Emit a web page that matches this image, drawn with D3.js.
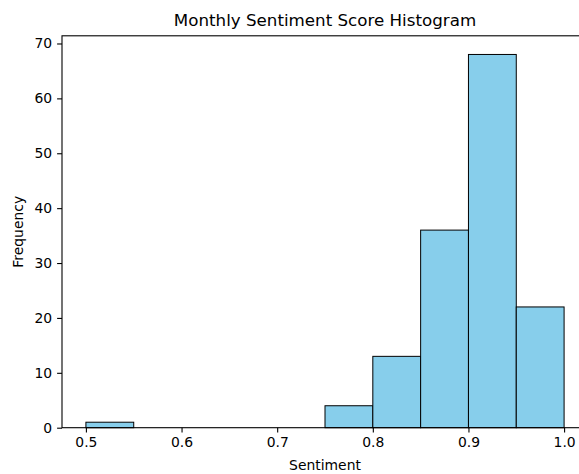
<!DOCTYPE html>
<html>
<head>
<meta charset="utf-8">
<script src="https://cdn.jsdelivr.net/npm/d3@7"></script>
<style>
  body { margin: 0; background: #fff; }
  text { font-family: "DejaVu Sans", sans-serif; fill: #000; }
</style>
</head>
<body>
<div id="chart"></div>
<script>
// histogram bins (10 bins between 0.5 and 1.0)
var binEdges = [0.5, 0.55, 0.6, 0.65, 0.7, 0.75, 0.8, 0.85, 0.9, 0.95, 1.0];
var binCounts = [1, 0, 0, 0, 0, 4, 13, 36, 68, 22];
var xTicks = [0.5, 0.6, 0.7, 0.8, 0.9, 1.0];
var yTicks = [0, 10, 20, 30, 40, 50, 60, 70];

var svgWidth = 579;
var svgHeight = 474;

// axes box (right side runs past the window, like the reference)
var box = { left: 62, right: 588, top: 35.8, bottom: 427.7 };

var svg = d3.select("#chart")
  .append("svg")
  .attr("width", svgWidth)
  .attr("height", svgHeight);

var xScale = d3.scaleLinear()
  .domain([0.475, 1.025])
  .range([box.left, box.right]);

var yScale = d3.scaleLinear()
  .domain([0, 71.4])
  .range([box.bottom, box.top]);

var bins = binCounts.map(function (c, i) {
  return { x0: binEdges[i], x1: binEdges[i + 1], count: c };
});

svg.selectAll("rect.bar")
  .data(bins.filter(d => d.count > 0))
  .enter()
  .append("rect")
  .attr("class", "bar")
  .attr("x", d => xScale(d.x0))
  .attr("y", d => yScale(d.count))
  .attr("width", d => xScale(d.x1) - xScale(d.x0))
  .attr("height", d => yScale(0) - yScale(d.count))
  .attr("fill", "#87ceeb")
  .attr("stroke", "#000")
  .attr("stroke-width", 1);

var bottomAxis = d3.axisBottom(xScale)
  .tickValues(xTicks)
  .tickFormat(d3.format(".1f"))
  .tickSizeInner(4.9)
  .tickSizeOuter(0)
  .tickPadding(4.9);

var leftAxis = d3.axisLeft(yScale)
  .tickValues(yTicks)
  .tickSizeInner(4.9)
  .tickSizeOuter(0)
  .tickPadding(4.9);

var xg = svg.append("g")
  .attr("transform", `translate(0, ${box.bottom})`)
  .call(bottomAxis);
var yg = svg.append("g")
  .attr("transform", `translate(${box.left}, 0)`)
  .call(leftAxis);

[xg, yg].forEach(function (g) {
  g.select(".domain").remove();
  g.selectAll(".tick line").attr("stroke", "#000").attr("stroke-width", 1.1);
  g.selectAll(".tick text")
    .style("font-family", "DejaVu Sans, sans-serif")
    .style("font-size", "13.9px")
    .attr("fill", "#000");
});

// spines
svg.append("rect")
  .attr("x", box.left)
  .attr("y", box.top)
  .attr("width", box.right - box.left)
  .attr("height", box.bottom - box.top)
  .attr("fill", "none")
  .attr("stroke", "#000")
  .attr("stroke-width", 1.1);

svg.append("text")
  .attr("x", (box.left + box.right) / 2)
  .attr("y", 26)
  .attr("text-anchor", "middle")
  .attr("font-size", "16.7px")
  .text("Monthly Sentiment Score Histogram");

svg.append("text")
  .attr("x", (box.left + box.right) / 2)
  .attr("y", 470)
  .attr("text-anchor", "middle")
  .attr("font-size", "13.9px")
  .text("Sentiment");

svg.append("text")
  .attr("transform", `translate(23, ${(box.top + box.bottom) / 2}) rotate(-90)`)
  .attr("text-anchor", "middle")
  .attr("font-size", "13.9px")
  .text("Frequency");
</script>
</body>
</html>
